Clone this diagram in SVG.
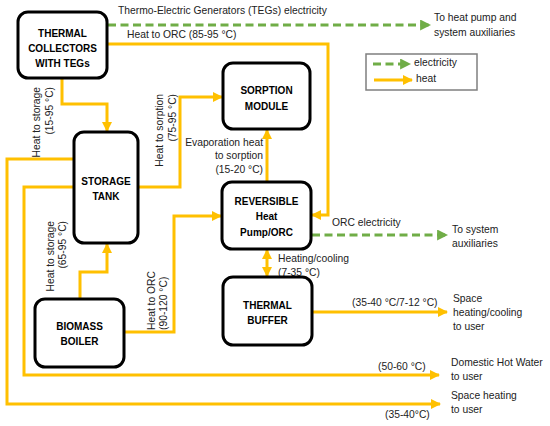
<svg xmlns="http://www.w3.org/2000/svg" width="550" height="426" viewBox="0 0 550 426">
<defs>
<marker id="ah" markerUnits="userSpaceOnUse" markerWidth="10" markerHeight="10" refX="9" refY="5" orient="auto-start-reverse" viewBox="0 0 10 10"><path d="M0,0 L10,5 L0,10 z" fill="#FFC000"/></marker>
<marker id="eg" markerUnits="userSpaceOnUse" markerWidth="11" markerHeight="11" refX="9" refY="5" orient="auto" viewBox="0 0 10 10"><path d="M0,0 L10,5 L0,10 z" fill="#70AD47"/></marker>
<style>
.node rect{fill:#fff;stroke:#000;stroke-width:3}
.node text{font-family:"Liberation Sans",Arial,sans-serif;font-size:10px;font-weight:bold;text-anchor:middle;fill:#000}
.h{fill:none;stroke:#FFC000;stroke-width:3}
.e{fill:none;stroke:#70AD47;stroke-width:3;stroke-dasharray:8,4.5}
.lbl{font-family:"Liberation Sans",Arial,sans-serif;font-size:10.3px;fill:#222}
</style>
</defs>
<rect width="550" height="426" fill="#fff"/>
<g id="connectors">
<path class="e" d="M108,25 H430" marker-end="url(#eg)"/>
<path class="h" d="M108,44 H328 V215 H312" marker-end="url(#ah)"/>
<path class="h" d="M62,79 V104 H107 V131" marker-end="url(#ah)"/>
<path class="h" d="M74,159 H7 V404 H440" marker-end="url(#ah)"/>
<path class="h" d="M74,187 H24 V375 H439" marker-end="url(#ah)"/>
<path class="h" d="M138,187 H180 V97 H222" marker-end="url(#ah)"/>
<path class="h" d="M267,182 V130" marker-end="url(#ah)"/>
<path class="h" d="M80,299 V272 H107 V244" marker-end="url(#ah)"/>
<path class="h" d="M124,332 H174 V216 H221" marker-end="url(#ah)"/>
<path class="h" d="M267,250 V276" marker-start="url(#ah)" marker-end="url(#ah)"/>
<path class="e" d="M312,235 H447" marker-end="url(#eg)"/>
<path class="h" d="M313,312 H447" marker-end="url(#ah)"/>
</g>
<g id="labels" class="lbl">
<text x="118" y="14">Thermo-Electric Generators (TEGs) electricity</text>
<text x="127" y="38">Heat to ORC (85-95 °C)</text>
<text x="434" y="21">To heat pump and</text>
<text x="434" y="36">system auxiliaries</text>
<text transform="translate(40,87) rotate(-90)" text-anchor="end">Heat to storage</text>
<text transform="translate(53,87) rotate(-90)" text-anchor="end">(15-95 °C)</text>
<text transform="translate(163,94) rotate(-90)" text-anchor="end">Heat to sorption</text>
<text transform="translate(176,94) rotate(-90)" text-anchor="end">(75-95 °C)</text>
<text transform="translate(54,221) rotate(-90)" text-anchor="end">Heat to storage</text>
<text transform="translate(66,221) rotate(-90)" text-anchor="end">(65-95 °C)</text>
<text transform="translate(155,330) rotate(-90)">Heat to ORC</text>
<text transform="translate(167,330) rotate(-90)">(90-120 °C)</text>
<text x="263" y="146" text-anchor="end">Evaporation heat</text>
<text x="263" y="159" text-anchor="end">to sorption</text>
<text x="263" y="173" text-anchor="end">(15-20 °C)</text>
<text x="332" y="226">ORC electricity</text>
<text x="452" y="233">To system</text>
<text x="452" y="247">auxiliaries</text>
<text x="278" y="262">Heating/cooling</text>
<text x="278" y="276">(7-35 °C)</text>
<text x="352" y="306">(35-40 °C/7-12 °C)</text>
<text x="453" y="302">Space</text>
<text x="453" y="316">heating/cooling</text>
<text x="453" y="330">to user</text>
<text x="378" y="370">(50-60 °C)</text>
<text x="451" y="366">Domestic Hot Water</text>
<text x="451" y="380">to user</text>
<text x="451" y="399">Space heating</text>
<text x="451" y="413">to user</text>
<text x="385" y="418">(35-40°C)</text>
</g>
<g id="legend">
<rect x="366" y="54" width="111" height="36" fill="#fff" stroke="#7F7F7F" stroke-width="1.5"/>
<path class="e" d="M373,64 H410" marker-end="url(#eg)"/>
<path class="h" d="M374,80 H412" marker-end="url(#ah)"/>
<text class="lbl" x="414" y="66" font-size="11">electricity</text>
<text class="lbl" x="416" y="82" font-size="11">heat</text>
</g>
<g id="collectors" class="node">
<rect x="18" y="12" width="89" height="66" rx="10"/>
<text x="62.5" y="37">THERMAL</text>
<text x="62.5" y="52">COLLECTORS</text>
<text x="62.5" y="67">WITH TEGs</text>
</g>
<g id="sorption" class="node">
<rect x="223" y="63" width="87" height="66" rx="10"/>
<text x="266.5" y="94">SORPTION</text>
<text x="266.5" y="110">MODULE</text>
</g>
<g id="storage" class="node">
<rect x="74" y="132" width="64" height="111" rx="10"/>
<text x="106" y="185">STORAGE</text>
<text x="106" y="200">TANK</text>
</g>
<g id="heatpump" class="node">
<rect x="222" y="182" width="89" height="67" rx="10"/>
<text x="266.5" y="205">REVERSIBLE</text>
<text x="266.5" y="220">Heat</text>
<text x="266.5" y="236">Pump/ORC</text>
</g>
<g id="biomass" class="node">
<rect x="35" y="299" width="89" height="68" rx="10"/>
<text x="79.5" y="330">BIOMASS</text>
<text x="79.5" y="345">BOILER</text>
</g>
<g id="buffer" class="node">
<rect x="223" y="277" width="89" height="68" rx="10"/>
<text x="267.5" y="309">THERMAL</text>
<text x="267.5" y="324">BUFFER</text>
</g>
</svg>
